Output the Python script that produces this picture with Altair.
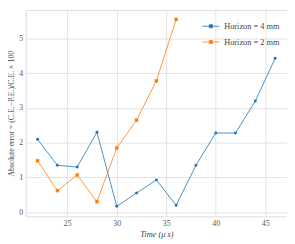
import altair as alt
import pandas as pd

time_4mm = [22, 24, 26, 28, 30, 32, 34, 36, 38, 40, 42, 44, 46]
err_4mm = [2.10, 1.35, 1.30, 2.30, 0.17, 0.55, 0.93, 0.20, 1.35, 2.28, 2.28, 3.20, 4.43]
time_2mm = [22, 24, 26, 28, 30, 32, 34, 36]
err_2mm = [1.48, 0.62, 1.07, 0.30, 1.85, 2.65, 3.78, 5.55]
series = ["Horizon = 4 mm", "Horizon = 2 mm"]
colors = ["#1f77b4", "#ff7f0e"]

df = pd.concat([
    pd.DataFrame({"t": time_4mm, "e": err_4mm, "s": series[0]}),
    pd.DataFrame({"t": time_2mm, "e": err_2mm, "s": series[1]}),
])

font = "Liberation Serif"
common = dict(grid=True, gridColor="#dddddd", gridWidth=0.8, domain=False, ticks=False,
              labelFont=font, labelFontSize=8, labelColor="#555", labelPadding=3,
              titleFont=font, titleFontWeight="normal", titleColor="#444", titlePadding=3)
x = alt.X("t:Q", scale=alt.Scale(domain=[20.8, 47.2], nice=False, zero=False),
          axis=alt.Axis(values=[25, 30, 35, 40, 45], title="Time (μ s)", titleFontStyle="italic",
                        titleFontSize=8.5, **common))
y = alt.Y("e:Q", scale=alt.Scale(domain=[-0.12, 5.82], nice=False),
          axis=alt.Axis(values=[0, 1, 2, 3, 4, 5],
                        title="Absolute error = (C.E.−P.E.)/C.E. × 100",
                        titleFontStyle="normal", titleFontSize=8, **common))
color = alt.Color("s:N", scale=alt.Scale(domain=series, range=colors),
                  legend=alt.Legend(title=None, orient="top-right", offset=4,
                                    symbolType="M-1,0L1,0M-0.18,-0.18L0.18,-0.18L0.18,0.18L-0.18,0.18Z",
                                    symbolSize=300, symbolStrokeWidth=0.8,
                                    labelFont=font, labelFontSize=8.5, labelColor="#444",
                                    rowPadding=2, padding=3))

base = alt.Chart(df)
lines = base.mark_line(strokeWidth=0.8).encode(x=x, y=y, color=color, detail="s:N")
pts4 = base.transform_filter(alt.datum.s == series[0]).mark_point(
    filled=True, size=9, opacity=1, shape="circle").encode(x=x, y=y, color=color)
pts2 = base.transform_filter(alt.datum.s == series[1]).mark_point(
    filled=True, size=12, opacity=1, shape="square").encode(x=x, y=y, color=color)

chart = (lines + pts4 + pts2).properties(
    width=266, height=210, padding={"left": 0, "top": 0, "right": 0, "bottom": 0}
).configure_view(stroke="#cccccc", strokeWidth=0.8).configure(background="white")

chart.save("out.html", embed_options={"renderer": "svg", "actions": False})
